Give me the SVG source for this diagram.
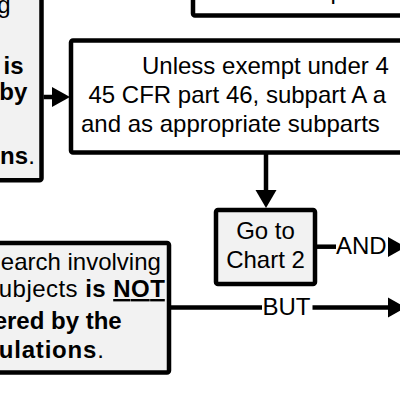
<svg xmlns="http://www.w3.org/2000/svg" width="400" height="400" viewBox="0 0 400 400">
  <style>
    .box { stroke: #000; stroke-width: 4.5; stroke-linejoin: round; }
    .gray { fill: #f2f2f2; }
    .white { fill: #ffffff; }
    .t { font-family: "Liberation Sans", Arial, sans-serif; font-size: 24px; fill: #000; }
    .b { font-weight: bold; }
    .line { stroke: #000; stroke-width: 4.5; fill: none; }
    .head { fill: #000; }
  </style>
  <rect x="0" y="0" width="400" height="400" fill="#ffffff"/>

  <g id="node-top-right">
    <rect class="box white" x="193" y="-50" width="260" height="65.5" rx="2"/>
    <text class="t" x="330.5" y="-1">p</text>
  </g>

  <g id="node-top-left">
    <rect class="box gray" x="-100" y="-50" width="141.5" height="230.3" rx="2"/>
    <text class="t" text-anchor="end" x="10.6" y="13">g</text>
    <text class="t b" text-anchor="end" x="23.5" y="74">is</text>
    <text class="t b" text-anchor="end" x="27.3" y="99.5">by</text>
    <text class="t" text-anchor="end" x="34.8" y="164"><tspan class="b">ns</tspan>.</text>
  </g>

  <g id="node-exempt">
    <rect class="box white" x="71" y="40.5" width="400" height="112" rx="2"/>
    <text class="t" x="142" y="73.5">Unless exempt under 4</text>
    <text class="t" x="88.5" y="102.5">45 CFR part 46, subpart A a</text>
    <text class="t" x="81" y="132">and as appropriate subparts</text>
  </g>

  <g id="node-chart2">
    <rect class="box gray" x="216" y="210" width="99" height="74" rx="2"/>
    <text class="t" text-anchor="middle" x="265.5" y="238.5">Go to</text>
    <text class="t" text-anchor="middle" x="265.5" y="268">Chart 2</text>
  </g>

  <g id="node-not-covered">
    <rect class="box gray" x="-100" y="243" width="269" height="129.5" rx="2"/>
    <text class="t" text-anchor="end" x="160.9" y="270">earch involving</text>
    <text class="t" x="-1.2" y="297" textLength="166" lengthAdjust="spacing">ubjects <tspan class="b">is</tspan> <tspan class="b" text-decoration="underline">NOT</tspan></text>
    <text class="t b" text-anchor="end" x="121.7" y="328.5">ered by the</text>
    <text class="t" x="-1.2" y="358" textLength="105" lengthAdjust="spacing"><tspan class="b">ulations</tspan>.</text>
  </g>

  <g id="connectors">
    <line class="line" x1="43.5" y1="97" x2="53" y2="97"/>
    <polygon class="head" points="52,87 70,97 52,107"/>

    <line class="line" x1="266" y1="154" x2="266" y2="191"/>
    <polygon class="head" points="255.5,190 276.5,190 266,208"/>

    <line class="line" x1="317" y1="246.7" x2="336" y2="246.7"/>
    <text class="t" x="336" y="254">AND</text>
    <polygon class="head" points="388,237 406,247 388,257"/>

    <line class="line" x1="171" y1="307.5" x2="262" y2="307.5"/>
    <text class="t" x="262.5" y="315">BUT</text>
    <line class="line" x1="312.5" y1="307.5" x2="389" y2="307.5"/>
    <polygon class="head" points="388,297.5 406,307.5 388,317.5"/>
  </g>
</svg>
